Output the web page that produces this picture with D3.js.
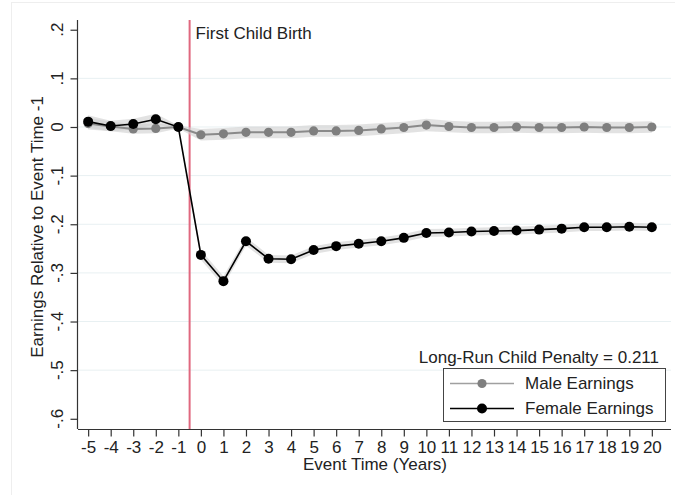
<!DOCTYPE html>
<html>
<head>
<meta charset="utf-8">
<script src="https://cdn.jsdelivr.net/npm/d3@7/dist/d3.min.js"></script>
<style>
  html, body { margin: 0; padding: 0; background: #fff; }
  svg { display: block; }
  text { font-family: "Liberation Sans", Arial, Helvetica, sans-serif; fill: #222; }
</style>
</head>
<body>
<svg id="chart" width="675" height="495"></svg>
<script>
// Event time (years relative to first child birth)
const eventTimes = [-5, -4, -3, -2, -1, 0, 1, 2, 3, 4, 5, 6, 7, 8, 9, 10, 11, 12, 13, 14, 15, 16, 17, 18, 19, 20];

// Earnings relative to event time -1
const maleEarnings = [0.007, 0.001, -0.004, -0.003, 0.000, -0.016, -0.014, -0.011, -0.011, -0.011,
  -0.008, -0.008, -0.007, -0.004, -0.001, 0.004, 0.001, -0.001, -0.001, 0.000,
  -0.001, -0.001, 0.000, -0.001, -0.001, 0.000];
const femaleEarnings = [0.011, 0.002, 0.006, 0.016, 0.000, -0.263, -0.317, -0.235, -0.271, -0.272,
  -0.253, -0.245, -0.240, -0.235, -0.228, -0.218, -0.217, -0.215, -0.214, -0.213,
  -0.211, -0.209, -0.206, -0.206, -0.205, -0.206];

// Half-width of the confidence bands
const maleCI = [0.012, 0.010, 0.010, 0.010, 0.003, 0.012, 0.012, 0.012, 0.012, 0.012,
  0.012, 0.012, 0.012, 0.012, 0.012, 0.013, 0.012, 0.012, 0.012, 0.012,
  0.012, 0.012, 0.012, 0.012, 0.012, 0.012];
const femaleCI = [0.013, 0.011, 0.011, 0.011, 0.003, 0.010, 0.010, 0.009, 0.008, 0.008,
  0.008, 0.008, 0.008, 0.008, 0.008, 0.008, 0.008, 0.008, 0.008, 0.008,
  0.008, 0.008, 0.008, 0.008, 0.008, 0.008];

const yTicks = [0.2, 0.1, 0, -0.1, -0.2, -0.3, -0.4, -0.5, -0.6];
const yTickLabels = [".2", ".1", "0", "-.1", "-.2", "-.3", "-.4", "-.5", "-.6"];
const gridValues = [0.1, 0, -0.1, -0.2, -0.3, -0.4, -0.5];
const birthTime = -0.5;
const penalty = 0.211;

const svg = d3.select("#chart");
const FS = 17;

// faint outer frame of the graph region
svg.append("rect")
  .attr("x", 11.5).attr("y", 2.5).attr("width", 700).attr("height", 600)
  .attr("fill", "none").attr("stroke", "#eeeeee").attr("stroke-width", 1);

const x = d3.scaleLinear().domain([-5.45, 20.85]).range([78, 671]);
const y = d3.scaleLinear().domain([-0.621, 0.22]).range([429, 20]);

// horizontal grid
svg.append("g").selectAll("line").data(gridValues).join("line")
  .attr("x1", 78).attr("x2", 671)
  .attr("y1", d => y(d)).attr("y2", d => y(d))
  .attr("stroke", "#e8f0f2").attr("stroke-width", 1);

// axes
const yAxis = d3.axisLeft(y).tickValues(yTicks).tickSize(7).tickFormat("");
const yg = svg.append("g").attr("transform", "translate(77.5,0)").call(yAxis);
yg.select(".domain").attr("stroke", "#333").attr("stroke-width", 1.2).attr("d", `M0,${y.range()[0]}V${y.range()[1]}`);
yg.selectAll(".tick line").attr("stroke", "#333").attr("stroke-width", 1.2);

svg.append("g").selectAll("text").data(yTicks).join("text")
  .attr("transform", d => `translate(57,${y(d)}) rotate(-90)`)
  .attr("text-anchor", "middle").attr("dy", "0.35em")
  .attr("font-size", FS)
  .text((d, i) => yTickLabels[i]);

const xAxis = d3.axisBottom(x).tickValues(eventTimes).tickSize(7).tickPadding(4).tickFormat(d => String(d));
const xg = svg.append("g").attr("transform", "translate(0,429.5)").call(xAxis);
xg.select(".domain").attr("stroke", "#333").attr("stroke-width", 1.2).attr("d", `M${x.range()[0]},0H${x.range()[1]}`);
xg.selectAll(".tick line").attr("stroke", "#333").attr("stroke-width", 1.2);
xg.selectAll(".tick text").attr("font-size", FS).attr("fill", "#222")
  .attr("font-family", "'Liberation Sans', Arial, Helvetica, sans-serif");

// axis titles
svg.append("text").attr("x", 375).attr("y", 470).attr("text-anchor", "middle")
  .attr("font-size", FS).text("Event Time (Years)");
svg.append("text").attr("transform", "translate(37,227) rotate(-90)")
  .attr("text-anchor", "middle").attr("dy", "0.35em")
  .attr("font-size", FS).text("Earnings Relative to Event Time -1");

// first child birth marker
svg.append("line")
  .attr("x1", x(birthTime)).attr("x2", x(birthTime))
  .attr("y1", y.range()[1]).attr("y2", y.range()[0])
  .attr("stroke", "#e0687f").attr("stroke-width", 2);
svg.append("text").attr("x", x(birthTime) + 6).attr("y", 38.5)
  .attr("font-size", FS).text("First Child Birth");

// series
const male = eventTimes.map((t, i) => ({ t, v: maleEarnings[i], ci: maleCI[i] }));
const female = eventTimes.map((t, i) => ({ t, v: femaleEarnings[i], ci: femaleCI[i] }));

const band = d3.area().x(d => x(d.t)).y0(d => y(d.v - d.ci)).y1(d => y(d.v + d.ci));
const line = d3.line().x(d => x(d.t)).y(d => y(d.v));

svg.append("path").datum(male).attr("d", band)
  .attr("fill", "#cfcfcf").attr("fill-opacity", 0.6);
svg.append("path").datum(female).attr("d", band)
  .attr("fill", "#cfcfcf").attr("fill-opacity", 0.6);

svg.append("path").datum(male).attr("d", line)
  .attr("fill", "none").attr("stroke", "#8a8a8a").attr("stroke-width", 2);
svg.append("g").selectAll("circle").data(male).join("circle")
  .attr("cx", d => x(d.t)).attr("cy", d => y(d.v)).attr("r", 4.6)
  .attr("fill", "#7f7f7f");

svg.append("path").datum(female).attr("d", line)
  .attr("fill", "none").attr("stroke", "#000").attr("stroke-width", 1.6);
svg.append("g").selectAll("circle").data(female).join("circle")
  .attr("cx", d => x(d.t)).attr("cy", d => y(d.v)).attr("r", 5)
  .attr("fill", "#000");

// long-run penalty note
svg.append("text").attr("x", 659).attr("y", 362.5).attr("text-anchor", "end")
  .attr("font-size", FS).text(`Long-Run Child Penalty = ${penalty.toFixed(3)}`);

// legend
const legend = svg.append("g");
legend.append("rect").attr("x", 443.5).attr("y", 368.5).attr("width", 222).attr("height", 53)
  .attr("fill", "#fff").attr("stroke", "#444").attr("stroke-width", 1);
const legendItems = [
  { label: "Male Earnings", color: "#a0a0a0", dot: "#7f7f7f", r: 4.6 },
  { label: "Female Earnings", color: "#000", dot: "#000", r: 5 }
];
legendItems.forEach((it, i) => {
  const ly = 383.5 + i * 25;
  legend.append("line").attr("x1", 450).attr("x2", 514).attr("y1", ly).attr("y2", ly)
    .attr("stroke", it.color).attr("stroke-width", 1.6);
  legend.append("circle").attr("cx", 482).attr("cy", ly).attr("r", it.r).attr("fill", it.dot);
  legend.append("text").attr("x", 525).attr("y", ly).attr("dy", "0.35em")
    .attr("font-size", FS).text(it.label);
});
</script>
</body>
</html>
